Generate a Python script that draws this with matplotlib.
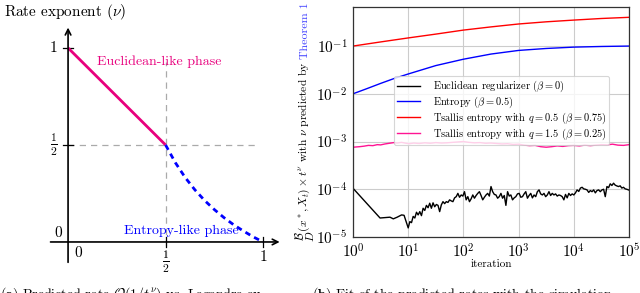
import numpy as np
import matplotlib
matplotlib.use('Agg')
import matplotlib.pyplot as plt

plt.rcParams['font.family'] = 'serif'
plt.rcParams['font.serif'] = ['cmr10']
plt.rcParams['mathtext.fontset'] = 'cm'
plt.rcParams['axes.formatter.use_mathtext'] = True
plt.rcParams['axes.unicode_minus'] = False

MAGENTA_A = '#e8007d'
MAGENTA_B = '#ff1493'

# --- left panel: predicted rate exponent vs Legendre exponent
eucl_beta = [0.0, 0.5]
eucl_nu = [1.0, 0.5]
ent_beta = [0.5, 0.55, 0.6, 0.65, 0.7, 0.75, 0.8, 0.85, 0.9, 0.95, 1.0]
ent_nu = [0.5, 0.409, 0.333, 0.269, 0.214, 0.167, 0.125, 0.088, 0.056, 0.026, 0.0]

# --- right panel: simulation (log10 of iteration)
red_logt = [0, 0.5, 1, 1.5, 2, 2.5, 3, 3.5, 4, 4.5, 5]
red_val = [0.100, 0.122, 0.148, 0.178, 0.216, 0.252, 0.290, 0.322, 0.350, 0.378, 0.400]
blue_logt = [0, 0.25, 0.5, 0.75, 1, 1.5, 2, 2.5, 3, 3.5, 4, 4.5, 5]
blue_val = [0.0100, 0.0128, 0.0165, 0.0210, 0.0260, 0.0390, 0.0530, 0.0680, 0.0810, 0.0890, 0.0950, 0.0980, 0.1000]
mag_logt = [0.0, 0.12, 0.2, 0.28, 0.36, 0.44, 0.5, 0.58, 0.66, 0.74, 0.8, 0.88, 0.96, 1.02, 1.1,
            1.2, 1.3, 1.4, 1.5, 1.6, 1.7, 1.8, 1.9, 2.0, 2.1, 2.2, 2.3, 2.4, 2.5, 2.6, 2.7,
            2.8, 2.9, 3.0, 3.1, 3.2, 3.3, 3.4, 3.5, 3.6, 3.7, 3.8, 3.9, 4.0, 4.1, 4.2, 4.3,
            4.4, 4.5, 4.6, 4.7, 4.8, 4.9, 5.0]
mag_val = [7.6, 7.8, 8.0, 8.3, 8.2, 8.6, 8.5, 8.9, 9.2, 9.5, 9.3, 9.6, 9.2, 9.0, 9.3,
           9.1, 9.4, 9.2, 9.5, 9.3, 9.4, 9.6, 9.8, 10.0, 9.6, 9.4, 9.5, 9.2, 9.3, 9.1, 8.9,
           9.0, 8.7, 8.8, 8.4, 8.2, 8.3, 7.8, 7.6, 7.8, 8.1, 7.9, 8.2, 8.3, 8.1, 8.4, 8.2,
           8.4, 8.6, 8.5, 8.8, 8.4, 8.3, 8.6]
black_logt = [0.0, 0.49, 0.58, 0.67, 0.73, 0.8, 0.88, 0.925, 1.0, 1.03, 1.06, 1.09, 1.12,
              1.15, 1.18, 1.21, 1.24, 1.27, 1.3, 1.33, 1.36, 1.39, 1.42, 1.45, 1.48, 1.51,
              1.54, 1.57, 1.6, 1.63, 1.66, 1.69, 1.72, 1.75, 1.78, 1.81, 1.84, 1.87, 1.9,
              1.93, 1.96, 1.99, 2.02, 2.05, 2.08, 2.11, 2.14, 2.17, 2.2, 2.23, 2.26, 2.29,
              2.32, 2.35, 2.38, 2.41, 2.44, 2.47, 2.5, 2.53, 2.56, 2.59, 2.62, 2.65, 2.68,
              2.71, 2.74, 2.77, 2.8, 2.83, 2.86, 2.89, 2.92, 2.95, 2.98, 3.01, 3.04, 3.07,
              3.1, 3.13, 3.16, 3.19, 3.22, 3.25, 3.28, 3.31, 3.34, 3.37, 3.4, 3.43, 3.46,
              3.49, 3.52, 3.55, 3.58, 3.61, 3.64, 3.67, 3.7, 3.73, 3.76, 3.79, 3.82, 3.85,
              3.88, 3.91, 3.94, 3.97, 4.0, 4.03, 4.06, 4.09, 4.12, 4.15, 4.18, 4.21, 4.24,
              4.27, 4.3, 4.33, 4.36, 4.39, 4.42, 4.45, 4.48, 4.51, 4.54, 4.57, 4.6, 4.63,
              4.66, 4.69, 4.72, 4.75, 4.78, 4.81, 4.84, 4.87, 4.9, 4.93, 4.96, 5.0]
black_val = [10.5, 2.5, 2.55, 2.6, 2.4, 2.6, 2.9, 2.85, 1.55, 2.1, 2.0, 2.7, 2.5,
             3.3, 2.9, 3.4, 2.8, 4.0, 3.6, 4.6, 4.1, 5.1, 4.0, 5.2, 4.3, 4.8,
             4.6, 3.4, 4.7, 5.5, 5.0, 5.5, 5.3, 6.0, 5.7, 5.5, 6.6, 7.0, 8.2,
             6.8, 7.6, 7.2, 8.9, 6.0, 7.0, 5.5, 6.3, 7.6, 6.5, 7.4, 8.2, 8.9,
             7.4, 6.0, 6.8, 7.6, 8.2, 7.2, 11.4, 8.9, 7.8, 7.6, 6.5, 7.0, 8.2,
             6.5, 7.4, 4.6, 8.9, 7.2, 7.6, 6.0, 6.6, 7.0, 8.0, 8.2, 6.8, 7.0,
             8.0, 8.9, 6.5, 7.4, 8.2, 6.6, 7.6, 7.0, 8.9, 9.7, 8.0, 7.6, 8.2,
             7.0, 7.6, 8.9, 7.4, 8.2, 7.6, 8.0, 7.2, 7.6, 7.4, 7.0, 6.0, 7.8,
             6.6, 8.2, 7.4, 8.0, 7.6, 8.4, 9.7, 9.0, 10.6, 11.0, 10.2, 10.0, 9.7,
             8.6, 9.4, 8.9, 9.7, 8.4, 9.4, 9.7, 8.9, 9.7, 10.0, 7.0, 11.4, 10.8,
             13.0, 12.0, 13.4, 12.2, 11.75, 11.4, 11.8, 10.6, 11.0, 10.2, 10.0, 9.6]

x_ticks = [1, 10, 100, 1000, 10000, 100000]
y_ticks = [1e-5, 1e-4, 1e-3, 1e-2, 1e-1]

fig = plt.figure(figsize=(6.4, 2.93), dpi=100)

# ---------- panel (a)
ax1 = fig.add_axes([0, 0, 290 / 640, 1])
ax1.set_xlim(-0.349, 1.138)
ax1.set_ylim(-0.263, 1.247)
ax1.axis('off')

ax1.annotate('', xy=(1.085, 0), xytext=(-0.09, 0),
             arrowprops=dict(arrowstyle='->', lw=1.2, color='black', shrinkA=0, shrinkB=0))
ax1.annotate('', xy=(0, 1.105), xytext=(0, -0.105),
             arrowprops=dict(arrowstyle='->', lw=1.2, color='black', shrinkA=0, shrinkB=0))
ax1.plot([0.5, 0.5], [-0.08, 0.93], ls=(0, (5, 4)), color='#aaaaaa', lw=0.9)
ax1.plot([0, 0.97], [0.5, 0.5], ls=(0, (5, 4)), color='#aaaaaa', lw=0.9)
for v in [0.5, 1.0]:
    ax1.plot([v, v], [-0.025, 0.025], color='black', lw=0.9)
    ax1.plot([-0.025, 0.025], [v, v], color='black', lw=0.9)

ax1.plot(eucl_beta, eucl_nu, color=MAGENTA_A, lw=2.0, solid_capstyle='butt')
ax1.plot(ent_beta, ent_nu, color='#0000ff', lw=2.0, ls=(0, (2, 1.6)))

ax1.text(0.467, 0.928, 'Euclidean-like phase', color=MAGENTA_A, fontsize=10, ha='center', va='center')
ax1.text(0.58, 0.057, 'Entropy-like phase', color='#0000ff', fontsize=10, ha='center', va='center')

ax1.text(-0.05, 0.045, '0', fontsize=11, ha='center', va='center')
ax1.text(-0.075, 0.5, r'$\frac{1}{2}$', fontsize=12, ha='center', va='center')
ax1.text(-0.075, 1.0, '1', fontsize=11, ha='center', va='center')
ax1.text(0.05, -0.06, '0', fontsize=11, ha='center', va='center')
ax1.text(0.5, -0.105, r'$\frac{1}{2}$', fontsize=12, ha='center', va='center')
ax1.text(1.0, -0.08, '1', fontsize=11, ha='center', va='center')
ax1.text(-0.33, 1.185, r'Rate exponent ($\nu$)', fontsize=11, ha='left', va='center')

# ---------- panel (b)
ax2 = fig.add_axes([353 / 640, (293 - 237) / 293, 276 / 640, 230 / 293])
ax2.plot(10 ** np.array(black_logt), np.array(black_val) * 1e-5, color='black', lw=1.0,
         label=r'Euclidean regularizer ($\beta = 0$)')
ax2.plot(10 ** np.array(blue_logt), blue_val, color='#0000ff', lw=1.0,
         label=r'Entropy ($\beta = 0.5$)')
ax2.plot(10 ** np.array(red_logt), red_val, color='#ff0000', lw=1.0,
         label=r'Tsallis entropy with $q = 0.5$ ($\beta = 0.75$)')
ax2.plot(10 ** np.array(mag_logt), np.array(mag_val) * 1e-4, color=MAGENTA_B, lw=1.0,
         label=r'Tsallis entropy with $q = 1.5$ ($\beta = 0.25$)')
ax2.set_xscale('log')
ax2.set_yscale('log')
ax2.set_xlim(1, 1e5)
ax2.set_ylim(1e-5, 0.658)
ax2.set_xticks(x_ticks)
ax2.set_yticks(y_ticks)
ax2.minorticks_off()
ax2.grid(True, color='#cccccc', lw=0.8)
ax2.set_axisbelow(True)
ax2.tick_params(labelsize=11, length=0, pad=4)
for s in ax2.spines.values():
    s.set_color('#333333')
    s.set_linewidth(0.9)
ax2.set_xlabel('iteration', fontsize=8, labelpad=-1)

leg = ax2.legend(loc='upper left', bbox_to_anchor=(0.1486, 0.70), borderaxespad=0,
                 fontsize=7.5, handlelength=2.2, handletextpad=1.2, labelspacing=0.05,
                 borderpad=0.3, framealpha=0.8, edgecolor='#cccccc')
leg.get_frame().set_linewidth(0.8)

# rotated y label in two colours: black part, then blue part right after it
renderer = fig.canvas.get_renderer()
lab = fig.text(305 / 640, (293 - 242) / 293,
               r'$\genfrac{}{}{0}{0}{\mathcal{B}}{D}(x^*, X_t) \times t^{\nu}$ with $\nu$ predicted by ',
               rotation=90, fontsize=8.3, ha='center', va='bottom')
try:
    bb = lab.get_window_extent(renderer=renderer)
except Exception:
    lab.set_text(r'$\overset{\mathcal{B}}{D}(x^*, X_t) \times t^{\nu}$ with $\nu$ predicted by ')
    bb = lab.get_window_extent(renderer=renderer)
fig.text(305 / 640, bb.y1 / fig.bbox.height + 0.008, 'Theorem 1', color='#4444ff',
         rotation=90, fontsize=8.6, ha='center', va='bottom')

# captions (cut off at the bottom, as in the source)
fig.text(0.0, (293 - 285) / 293, r'$\mathbf{(a)}$ Predicted rate $\mathcal{O}(1/t^{\nu})$ vs. Legendre ex-',
         fontsize=10, ha='left', va='top')
fig.text(312 / 640, (293 - 285) / 293, r'$\mathbf{(b)}$ Fit of the predicted rates with the simulation',
         fontsize=10, ha='left', va='top')

fig.savefig('out.png', dpi=100)
